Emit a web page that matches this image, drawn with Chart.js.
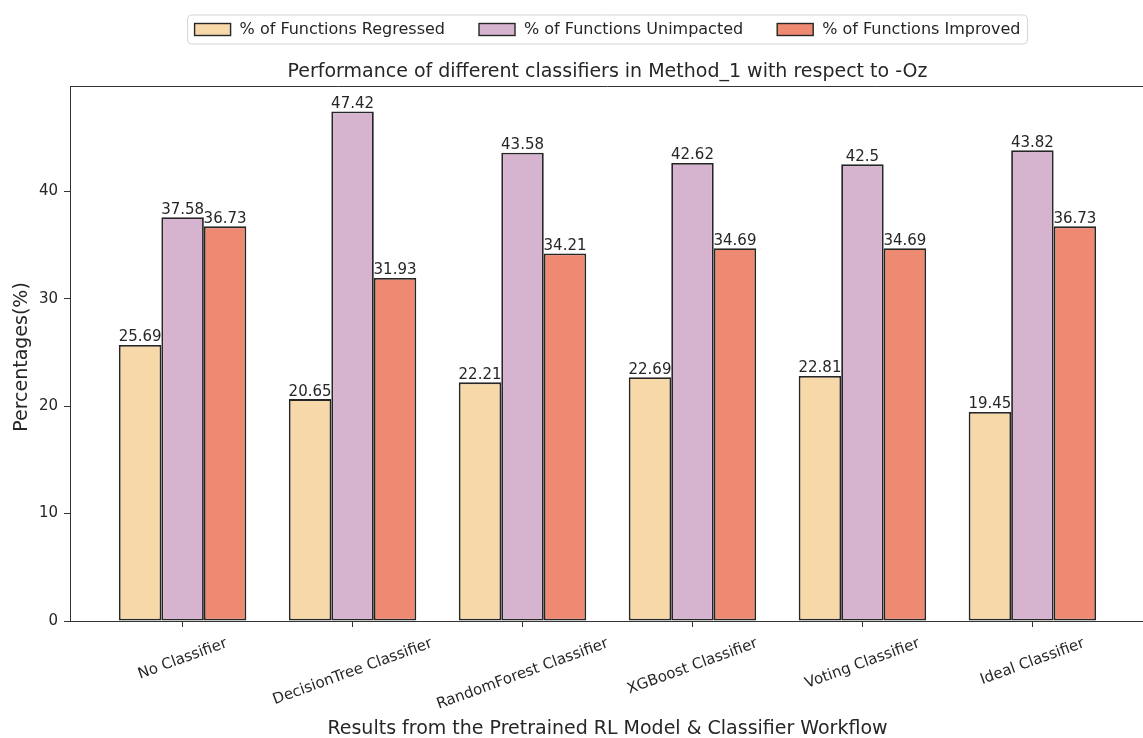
<!DOCTYPE html>
<html>
<head>
<meta charset="utf-8">
<script src="https://cdn.jsdelivr.net/npm/chart.js@4.4.1/dist/chart.umd.min.js"></script>
<style>
  html, body { margin: 0; padding: 0; background: #fff; overflow: hidden; }
  canvas { display: block; }
</style>
</head>
<body>
<canvas id="c" width="1160" height="738"></canvas>
<script>
// Classifier workflows compared against -Oz
const categories = [
  'No Classifier', 'DecisionTree Classifier', 'RandomForest Classifier',
  'XGBoost Classifier', 'Voting Classifier', 'Ideal Classifier'
];
const seriesNames = ['% of Functions Regressed', '% of Functions Unimpacted', '% of Functions Improved'];
const regressed  = [25.69, 20.65, 22.21, 22.69, 22.81, 19.45];
const unimpacted = [37.58, 47.42, 43.58, 42.62, 42.5, 43.82];
const improved   = [36.73, 31.93, 34.21, 34.69, 34.69, 36.73];
const yTicks = [0, 10, 20, 30, 40];

const titleText = 'Performance of different classifiers in Method_1 with respect to -Oz';
const xTitle = 'Results from the Pretrained RL Model & Classifier Workflow';
const yTitle = 'Percentages(%)';

const colors = ['#f7d8a9', '#d6b4d0', '#ee8a72'];
const edge = '#262626';
const ink = '#262626';
const FONT = '"DejaVu Sans", sans-serif';

const seriesValues = [regressed, unimpacted, improved];
const allValues = seriesValues.flat();
const yMax = Math.max(...allValues) * 1.05;
const xPad = (categories.length - 1 + 0.75) * 0.05;

const datasets = seriesValues.map((vals, k) => ({
  label: seriesNames[k],
  data: vals.map((v, i) => ({ x: i, y: v })),
  backgroundColor: colors[k],
  borderColor: edge,
  borderWidth: 1.8,
  borderSkipped: false,
  categoryPercentage: 0.75,
  barPercentage: 1.0
}));

// value labels on top of every bar
const barLabels = {
  id: 'barLabels',
  afterDatasetsDraw(chart) {
    const ctx = chart.ctx;
    ctx.save();
    ctx.font = '15px ' + FONT;
    ctx.fillStyle = ink;
    ctx.textAlign = 'center';
    ctx.textBaseline = 'bottom';
    chart.data.datasets.forEach((ds, k) => {
      const meta = chart.getDatasetMeta(k);
      meta.data.forEach((bar, i) => {
        ctx.fillText(String(seriesValues[k][i]), bar.x, bar.y);
      });
    });
    ctx.restore();
  }
};

// frame, legend, title, axis titles and rotated category labels
const decorations = {
  id: 'decorations',
  afterDraw(chart) {
    const ctx = chart.ctx;
    const a = chart.chartArea;
    const xs = chart.scales.x;
    ctx.save();

    // top and right spines
    ctx.strokeStyle = '#333';
    ctx.lineWidth = 1;
    ctx.beginPath();
    ctx.moveTo(a.left, a.top + 0.5);
    ctx.lineTo(a.right, a.top + 0.5);
    ctx.lineTo(a.right, a.bottom);
    ctx.stroke();

    // rotated category labels, centred under their ticks
    const rot = 20 * Math.PI / 180;
    ctx.font = '15px ' + FONT;
    ctx.fillStyle = ink;
    ctx.textAlign = 'center';
    ctx.textBaseline = 'middle';
    const th = 15;
    categories.forEach((lab, i) => {
      const w = ctx.measureText(lab).width;
      const bh = w * Math.sin(rot) + th * Math.cos(rot);
      const cx = xs.getPixelForValue(i);
      const cy = a.bottom + 15 + bh / 2;
      ctx.save();
      ctx.translate(cx, cy);
      ctx.rotate(-rot);
      ctx.fillText(lab, 0, 0);
      ctx.restore();
    });

    const midX = (a.left + a.right) / 2;

    // axis titles
    ctx.font = '19px ' + FONT;
    ctx.textBaseline = 'middle';
    ctx.fillText(xTitle, midX, 729);
    ctx.save();
    ctx.translate(22, 357);
    ctx.rotate(-Math.PI / 2);
    ctx.fillText(yTitle, 0, 0);
    ctx.restore();

    // chart title
    ctx.font = '19px ' + FONT;
    ctx.fillText(titleText, midX, 72);

    // legend
    ctx.font = '16px ' + FONT;
    const sw = 36, sh = 12, gapText = 9, gapItem = 34;
    const widths = seriesNames.map(n => ctx.measureText(n).width);
    const total = widths.reduce((s, w) => s + sw + gapText + w, 0) + gapItem * (seriesNames.length - 1);
    const lx0 = midX - total / 2;
    const ly = 29.5;
    // frame
    const fx = lx0 - 7, fy = 15, fw = total + 14, fh = 29, r = 4;
    ctx.beginPath();
    ctx.moveTo(fx + r, fy);
    ctx.arcTo(fx + fw, fy, fx + fw, fy + fh, r);
    ctx.arcTo(fx + fw, fy + fh, fx, fy + fh, r);
    ctx.arcTo(fx, fy + fh, fx, fy, r);
    ctx.arcTo(fx, fy, fx + fw, fy, r);
    ctx.closePath();
    ctx.fillStyle = 'rgba(255,255,255,0.8)';
    ctx.fill();
    ctx.strokeStyle = '#d6d6d6';
    ctx.lineWidth = 1;
    ctx.stroke();
    let x = lx0;
    ctx.textAlign = 'left';
    seriesNames.forEach((n, k) => {
      ctx.fillStyle = colors[k];
      ctx.fillRect(x, ly - sh / 2, sw, sh);
      ctx.strokeStyle = edge;
      ctx.lineWidth = 1.4;
      ctx.strokeRect(x, ly - sh / 2, sw, sh);
      ctx.fillStyle = ink;
      ctx.fillText(n, x + sw + gapText, ly);
      x += sw + gapText + widths[k] + gapItem;
    });

    ctx.restore();
  }
};

new Chart(document.getElementById('c'), {
  type: 'bar',
  data: { datasets },
  options: {
    responsive: false,
    animation: false,
    devicePixelRatio: 1,
    layout: { padding: { top: 86, right: 15, left: 0, bottom: 0 } },
    plugins: {
      legend: { display: false },
      title: { display: false },
      tooltip: { enabled: false }
    },
    scales: {
      x: {
        type: 'linear',
        offset: false,
        min: -0.375 - xPad,
        max: categories.length - 1 + 0.375 + xPad,
        afterBuildTicks(scale) { scale.ticks = categories.map((_, i) => ({ value: i })); },
        afterFit(scale) { scale.height = 117; },
        ticks: { display: false },
        grid: { offset: false, drawOnChartArea: false, drawTicks: true, tickLength: 6, color: '#333', lineWidth: 1 },
        border: { display: true, color: '#333', width: 1 }
      },
      y: {
        min: 0,
        max: yMax,
        afterBuildTicks(scale) { scale.ticks = yTicks.map(v => ({ value: v })); },
        afterFit(scale) { scale.width = 70; },
        ticks: {
          padding: 6,
          color: ink,
          font: { size: 15, family: FONT },
          callback: v => String(v)
        },
        grid: { drawOnChartArea: false, drawTicks: true, tickLength: 6, color: '#333', lineWidth: 1 },
        border: { display: true, color: '#333', width: 1 }
      }
    }
  },
  plugins: [barLabels, decorations]
});
</script>
</body>
</html>
